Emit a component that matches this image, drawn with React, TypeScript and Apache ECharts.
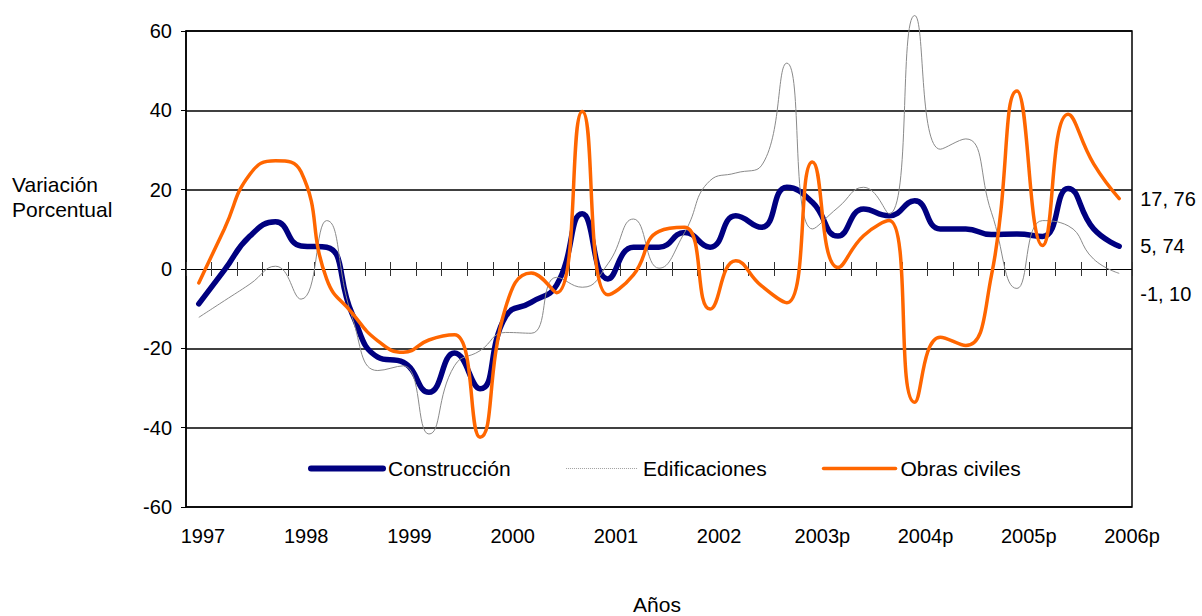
import React, { useEffect, useRef } from 'react';
import * as echarts from 'echarts';

const FONT = '"Liberation Sans", Arial, Helvetica, sans-serif';

// Quarterly categories (1997-I ... 2006-I)
const categories = [
  '1997-I', '1997-II', '1997-III', '1997-IV',
  '1998-I', '1998-II', '1998-III', '1998-IV',
  '1999-I', '1999-II', '1999-III', '1999-IV',
  '2000-I', '2000-II', '2000-III', '2000-IV',
  '2001-I', '2001-II', '2001-III', '2001-IV',
  '2002-I', '2002-II', '2002-III', '2002-IV',
  '2003-I', '2003-II', '2003-III', '2003-IV',
  '2004-I', '2004-II', '2004-III', '2004-IV',
  '2005-I', '2005-II', '2005-III', '2005-IV',
  '2006-I',
];

const yearLabels = ['1997', '1998', '1999', '2000', '2001', '2002', '2003p', '2004p', '2005p', '2006p'];

const construccion = [
  -8.8, -0.3, 8.3, 11.9, 5.8, 5.5, -11.3, -22.2, -23.5, -31.1, -21.2, -30.2,
  -12.0, -8.4, -4.0, 13.9, -2.5, 5.5, 5.5, 9.2, 5.5, 13.4, 10.5, 20.6,
  16.8, 8.3, 15.1, 13.4, 17.2, 10.1, 10.1, 8.7, 8.8, 8.2, 20.3, 10.1, 5.74,
];

const edificaciones = [
  -12.2, -8.0, -3.8, 0.7, -7.6, 12.2, -12.2, -25.6, -24.4, -41.6, -24.4, -20.6,
  -16.0, -16.2, -2.1, -4.6, 1.3, 12.6, 0.2, 9.2, 22.3, 24.2, 26.0, 51.9,
  10.1, 15.5, 20.6, 13.9, 63.9, 30.2, 32.8, 14.3, -4.9, 12.2, 10.9, 2.5, -1.1,
];

const obrasCiviles = [
  -3.5, 10.1, 23.9, 27.3, 24.5, -2.5, -11.1, -18.1, -21.0, -17.9, -16.6, -42.4,
  -9.7, -1.0, -6.0, 39.7, -6.5, -1.5, 9.5, 10.5, -10.1, 2.1, -4.2, -8.5,
  27.0, 0.4, 8.4, 12.2, -33.6, -17.2, -19.3, -1.7, 44.9, 5.9, 39.0, 26.5, 17.76,
];

const endLabelConstruccion = '5, 74';
const endLabelEdificaciones = '-1, 10';
const endLabelObras = '17, 76';

const NAVY = '#000080';
const ORANGE = '#FF6600';
const GRAY = '#8a8a8a';

export default function App() {
  const ref = useRef<HTMLDivElement>(null);

  useEffect(() => {
    if (!ref.current) return;
    const chart = echarts.init(ref.current, null, { renderer: 'svg' });
    const labelValues = yearLabels.map((_, i) => i);
    const labelMax = yearLabels.length - 1;
    const labelMin = -0.1647;

    const option: any = {
      animation: false,
      textStyle: { fontFamily: FONT },
      grid: {
        left: 186, right: 70, top: 31, bottom: 109,
        show: true, borderColor: '#000', borderWidth: 1.5, backgroundColor: 'transparent',
      },
      legend: {
        left: 303, top: 453,
        itemWidth: 72, itemHeight: 14, itemGap: 55,
        selectedMode: false,
        itemStyle: { opacity: 0 },
        textStyle: { fontSize: 21, color: '#000', fontFamily: FONT },
        data: [
          { name: 'Construcción', lineStyle: { width: 6, color: NAVY } },
          { name: 'Edificaciones', lineStyle: { width: 1, color: '#a0a0a0', type: [1, 1] } },
          { name: 'Obras civiles', lineStyle: { width: 3.5, color: ORANGE } },
        ],
      },
      xAxis: [
        {
          type: 'category', data: categories, boundaryGap: true, position: 'bottom',
          axisLine: { show: true, onZero: true, onZeroAxisIndex: 0, lineStyle: { color: '#000', width: 1 } },
          axisTick: { show: true, interval: 0, length: 7, lineStyle: { color: '#333', width: 1 } },
          axisLabel: { show: false }, splitLine: { show: false },
        },
        {
          type: 'category', data: categories, boundaryGap: true, position: 'bottom',
          axisLine: { show: true, onZero: true, onZeroAxisIndex: 0, lineStyle: { color: '#000', width: 1 } },
          axisTick: { show: true, inside: true, interval: 0, length: 7, lineStyle: { color: '#333', width: 1 } },
          axisLabel: { show: false }, splitLine: { show: false },
        },
        {
          type: 'value', min: labelMin, max: labelMax, position: 'bottom',
          axisLine: { show: false, onZero: false }, axisTick: { show: false }, splitLine: { show: false },
          axisLabel: {
            show: true, customValues: labelValues,
            formatter: (v: number) => yearLabels[Math.round(v)] ?? '',
            fontSize: 20, color: '#000', margin: 19, fontFamily: FONT,
          },
        },
      ],
      yAxis: {
        type: 'value', min: -60, max: 60, interval: 20,
        axisLine: { show: true, onZero: false, lineStyle: { color: '#000', width: 1.5 } },
        axisTick: { show: true, length: 5, lineStyle: { color: '#000', width: 1 } },
        axisLabel: { fontSize: 20, color: '#000', margin: 14, fontFamily: FONT },
        splitLine: {
          show: true,
          lineStyle: { color: ['#000', '#000', '#000', 'rgba(0,0,0,0)', '#000', '#000', '#000'], width: 1.5 },
        },
      },
      graphic: [
        {
          type: 'text', left: 12, top: 172,
          style: { text: 'Variación\nPorcentual', fontSize: 21, fontFamily: FONT, fill: '#000', lineHeight: 25 },
        },
        {
          type: 'text', x: 657, y: 604,
          style: { text: 'Años', fontSize: 21, fontFamily: FONT, fill: '#000', align: 'center', verticalAlign: 'middle', textAlign: 'center', textVerticalAlign: 'middle' },
        },
      ],
      series: [
        {
          name: 'Construcción', type: 'line', data: construccion, smooth: true,
          symbol: 'none', showSymbol: false,
          lineStyle: { color: NAVY, width: 5.5, cap: 'round', join: 'round' },
          itemStyle: { color: NAVY },
          endLabel: { show: true, formatter: endLabelConstruccion, color: '#000', fontSize: 20, fontFamily: FONT, distance: 21 },
          z: 3,
        },
        {
          name: 'Edificaciones', type: 'line', data: edificaciones, smooth: true,
          symbol: 'none', showSymbol: false, clip: false,
          lineStyle: { color: GRAY, width: 1, join: 'round' },
          itemStyle: { color: GRAY },
          endLabel: { show: true, formatter: endLabelEdificaciones, color: '#000', fontSize: 20, fontFamily: FONT, distance: 21, offset: [0, 21] },
          z: 4,
        },
        {
          name: 'Obras civiles', type: 'line', data: obrasCiviles, smooth: true,
          symbol: 'none', showSymbol: false,
          lineStyle: { color: ORANGE, width: 3.5, cap: 'round', join: 'round' },
          itemStyle: { color: ORANGE },
          endLabel: { show: true, formatter: endLabelObras, color: '#000', fontSize: 20, fontFamily: FONT, distance: 21 },
          z: 5,
        },
      ],
    };

    chart.setOption(option);
    return () => chart.dispose();
  }, []);

  return (
    <div
      ref={ref}
      style={{ position: 'absolute', left: 0, top: 0, width: 1202, height: 616, background: '#fff' }}
    />
  );
}
